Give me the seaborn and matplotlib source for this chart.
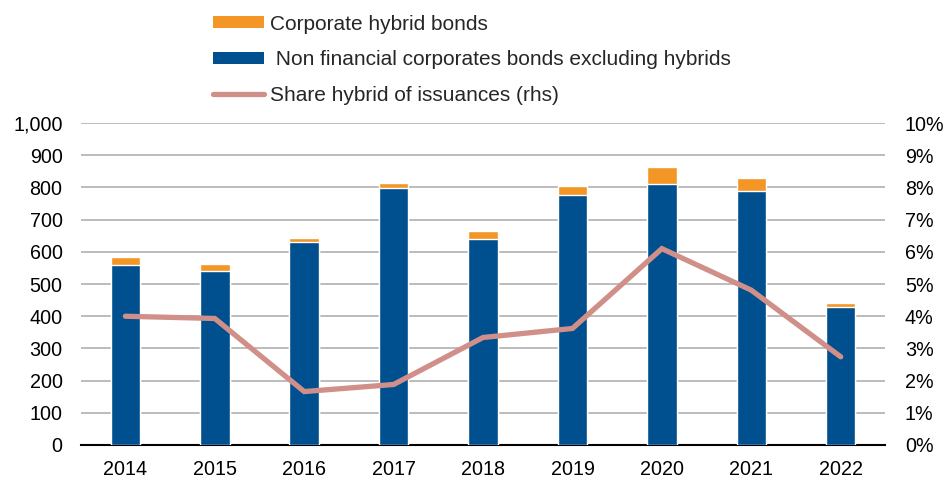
import numpy as np
import pandas as pd
import matplotlib
matplotlib.use("Agg")
import matplotlib.pyplot as plt
import seaborn as sns
from matplotlib.patches import Patch
from matplotlib.lines import Line2D
from matplotlib.ticker import FuncFormatter

years = ["2014", "2015", "2016", "2017", "2018", "2019", "2020", "2021", "2022"]
non_fin_ex_hybrids = [560, 540, 630, 798, 641, 776, 810, 789, 429]
hybrid_bonds = [23, 23, 12, 17, 24, 30, 55, 39, 13]
share_hybrid_pct = [4.0, 3.93, 1.66, 1.88, 3.34, 3.62, 6.1, 4.81, 2.74]

label_hybrid = "Corporate hybrid bonds"
label_nonfin = " Non financial corporates bonds excluding hybrids"
label_share = "Share hybrid of issuances (rhs)"

BLUE = "#004f8f"
ORANGE = "#f39626"
PINK = "#d08f88"

sns.set_theme(style="white")
plt.rcParams["font.family"] = ["Liberation Sans", "DejaVu Sans"]
FS = 14.2
LFS = 15.0

df = pd.DataFrame({
    "year": years,
    "nonfin": non_fin_ex_hybrids,
    "hybrid": hybrid_bonds,
})
df["total"] = df["nonfin"] + df["hybrid"]

fig = plt.figure(figsize=(9.49, 4.79), dpi=100)
ax = fig.add_axes([0.085, 0.071, 0.848, 0.672])

sns.barplot(data=df, x="year", y="total", color=ORANGE, saturation=1, width=0.33, ax=ax, zorder=2)
sns.barplot(data=df, x="year", y="nonfin", color=BLUE, saturation=1, width=0.33, ax=ax, zorder=3)

ax.set_ylim(0, 1000)
ax.set_xlim(-0.5, len(years) - 0.5)
ax.set_yticks(np.arange(0, 1001, 100))
ax.yaxis.set_major_formatter(FuncFormatter(lambda v, p: f"{int(v):,}"))
ax.grid(axis="y", color="#b0b0b0", linewidth=1.2, zorder=0)
ax.set_axisbelow(True)
ax.set_xlabel("")
ax.set_ylabel("")
for s in ["top", "right", "left"]:
    ax.spines[s].set_visible(False)
ax.spines["bottom"].set_color("black")
ax.spines["bottom"].set_linewidth(1.5)
ax.tick_params(axis="y", labelsize=FS, length=0, colors="black", pad=13)
ax.tick_params(axis="x", labelsize=FS, length=0, colors="black", pad=11)

ax2 = ax.twinx()
sns.lineplot(x=np.arange(len(years)), y=share_hybrid_pct, color=PINK, linewidth=3.8,
             ax=ax2, solid_capstyle="round", solid_joinstyle="miter")
ax2.set_ylim(0, 10)
ax2.set_yticks(np.arange(0, 11, 1))
ax2.yaxis.set_major_formatter(FuncFormatter(lambda v, p: f"{int(round(v))}%"))
ax2.tick_params(axis="y", labelsize=FS, length=0, colors="black", pad=14)
for s in ["top", "right", "left", "bottom"]:
    ax2.spines[s].set_visible(False)
ax2.set_xlim(-0.5, len(years) - 0.5)

handles = [
    Patch(facecolor=ORANGE, edgecolor="none", label=label_hybrid),
    Patch(facecolor=BLUE, edgecolor="none", label=label_nonfin),
    Line2D([0], [0], color=PINK, linewidth=3.8, solid_capstyle="round", label=label_share),
]
fig.legend(handles=handles, loc="upper left", bbox_to_anchor=(0.209, 1.0),
           frameon=False, fontsize=LFS, handlelength=2.45, handleheight=0.5,
           handletextpad=0.3, labelspacing=0.8, borderpad=0.2)

fig.savefig("out.png", dpi=100)
